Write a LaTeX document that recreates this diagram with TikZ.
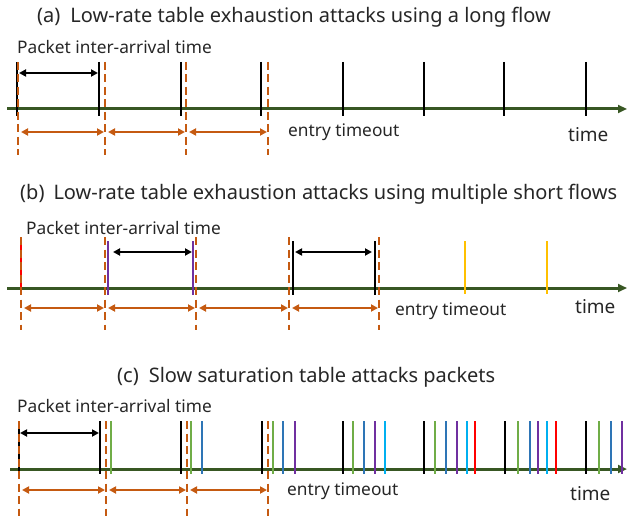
\documentclass[tikz,border=0pt]{standalone}
\usepackage{fontspec}
\setmainfont{Noto Sans}
\usetikzlibrary{arrows.meta}
\definecolor{axisgreen}{HTML}{385723}
\definecolor{tmorange}{HTML}{C55A11}
\definecolor{pgreen}{HTML}{70AD47}
\definecolor{pblue}{HTML}{2E75B6}
\definecolor{ppurple}{HTML}{7030A0}
\definecolor{pcyan}{HTML}{00B0F0}
\definecolor{pred}{HTML}{FF0000}
\definecolor{pyellow}{HTML}{FFC000}
\definecolor{txt}{HTML}{262626}
\tikzset{
  axisline/.style={axisgreen, line width=3pt, -{Triangle[length=9pt,width=8pt]}},
  pkt/.style={line width=2.8pt},
  timeout/.style={tmorange, line width=2.6pt, dash pattern=on 8pt off 4.5pt},
  span/.style={tmorange, line width=2.2pt,
    {Triangle[length=7pt,width=7pt]}-{Triangle[length=7pt,width=7pt]},
    shorten <=3pt, shorten >=1pt},
  gap/.style={black, line width=2.2pt,
    {Triangle[length=7pt,width=7pt]}-{Triangle[length=7pt,width=7pt]},
    shorten <=1pt, shorten >=1pt},
  title/.style={anchor=west, inner sep=0pt, text=txt, font=\fontsize{20}{22}\selectfont},
  lbl/.style={anchor=west, inner sep=0pt, text=txt, font=\fontsize{17.3}{19}\selectfont},
  lblt/.style={anchor=west, inner sep=0pt, text=txt, font=\fontsize{19}{21}\selectfont},
}
\begin{document}
\begin{tikzpicture}[x=1pt,y=-1pt]
\useasboundingbox (0,0) rectangle (627,516);

%% ---------- (a) one long flow ----------
\node[title] (ta) at (37,17) {(a)\hspace{10pt}Low-rate table exhaustion attacks using a long flow};
\node[lbl] (pa) at (17,47) {Packet inter-arrival time};
\coordinate (a0) at (7,109);
\coordinate (a1) at (627,109);
\draw[axisline] (a0) -- (a1);
\foreach \x in {17,99,181,261,343,424,504,586}
  \draw[pkt] (\x,62) -- (\x,116);
\foreach \x [count=\i] in {18,105,186,268} {
  \draw[timeout] (\x,62) -- (\x,155);
  \coordinate (ad\i) at (\x,132);
}
\coordinate (ag0) at (18,73);
\coordinate (ag1) at (99,73);
\draw[gap] (ag0) -- (ag1);
\draw[span] (ad1) -- (ad2);
\draw[span] (ad2) -- (ad3);
\draw[span] (ad3) -- (ad4);
\node[lbl] (ea) at (288,132) {entry timeout};
\node[lblt] (tma) at (568,135) {time};

%% ---------- (b) several short flows ----------
\node[title] (tb) at (20,194) {(b)\hspace{9pt}Low-rate table exhaustion attacks using multiple short flows};
\node[lbl] (pb) at (26,228) {Packet inter-arrival time};
\coordinate (b0) at (7,288);
\coordinate (b1) at (627,288);
\draw[axisline] (b0) -- (b1);
\draw[pkt, pred] (21,237) -- (21,295);
\foreach \x [count=\i] in {21,105,196,289,379} {
  \draw[timeout] (\x,237) -- (\x,330);
  \coordinate (bd\i) at (\x,308);
}
\draw[pkt, ppurple] (108,241) -- (108,295);
\draw[pkt, ppurple] (193,241) -- (193,295);
\draw[pkt] (293,241) -- (293,295);
\draw[pkt] (375,241) -- (375,295);
\draw[pkt, pyellow] (465,241) -- (465,294);
\draw[pkt, pyellow] (547,241) -- (547,294);
\coordinate (bg0) at (112,252);
\coordinate (bg1) at (193,252);
\coordinate (bg2) at (294,252);
\coordinate (bg3) at (373,252);
\draw[gap] (bg0) -- (bg1);
\draw[gap] (bg2) -- (bg3);
\draw[span] (bd1) -- (bd2);
\draw[span] (bd2) -- (bd3);
\draw[span] (bd3) -- (bd4);
\draw[span] (bd4) -- (bd5);
\node[lbl] (eb) at (395,311) {entry timeout};
\node[lblt] (tmb) at (575,307) {time};

%% ---------- (c) slow saturation ----------
\node[title] (tc) at (117,377) {(c)\hspace{10pt}Slow saturation table attacks packets};
\node[lbl] (pc) at (17,406) {Packet inter-arrival time};
\coordinate (c0) at (10,469);
\coordinate (c1) at (627,469);
\draw[axisline] (c0) -- (c1);
\foreach \x in {19,100,181,262,343,424,505,586}
  \draw[pkt] (\x,421) -- (\x,474);
\foreach \x/\c in {111/pgreen,
    191/pgreen,202/pblue,
    273/pgreen,283/pblue,295/ppurple,
    353/pgreen,364/pblue,375/ppurple,385/pcyan,
    435/pgreen,446/pblue,457/ppurple,467/pcyan,475/pred,
    518/pgreen,530/pblue,538/ppurple,547/pcyan,556/pred,
    599/pgreen,611/pblue,622/ppurple}
  \draw[pkt, \c] (\x,421) -- (\x,474);
\foreach \x [count=\i] in {19,106,187,268} {
  \draw[timeout] (\x,421) -- (\x,516);
  \coordinate (cd\i) at (\x,490);
}
\coordinate (cg0) at (19,433);
\coordinate (cg1) at (100,433);
\draw[gap] (cg0) -- (cg1);
\draw[span] (cd1) -- (cd2);
\draw[span] (cd2) -- (cd3);
\draw[span] (cd3) -- (cd4);
\node[lbl] (ec) at (287,491) {entry timeout};
\node[lblt] (tmc) at (570,494) {time};
\end{tikzpicture}
\end{document}
